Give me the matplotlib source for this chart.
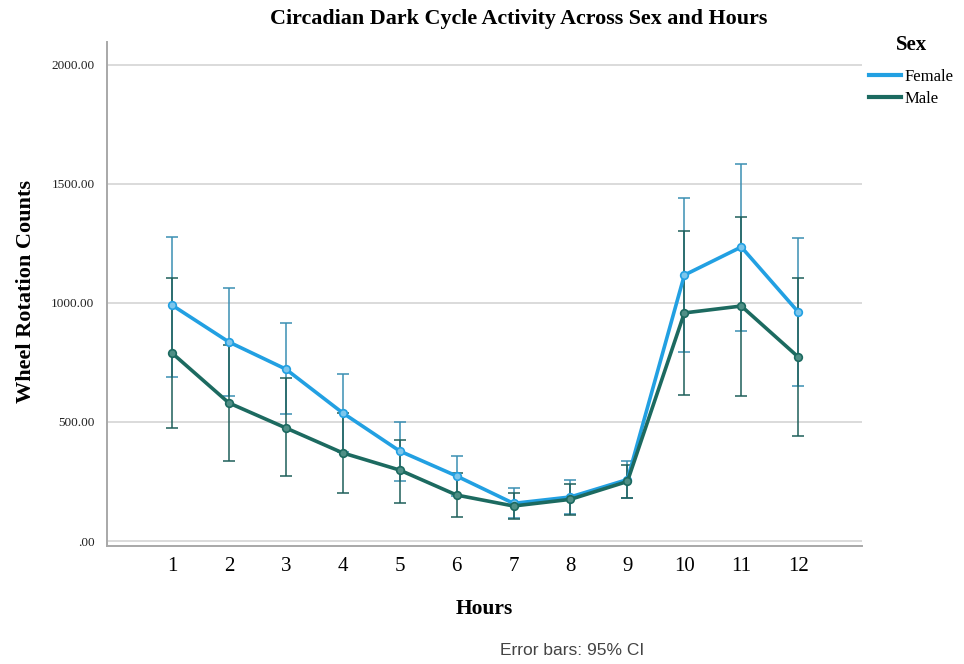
import numpy as np
import matplotlib.pyplot as plt

hours = [1, 2, 3, 4, 5, 6, 7, 8, 9, 10, 11, 12]

# mean wheel rotation counts and 95% CI bounds per hour
female_mean = [991, 836, 722, 538, 378, 273, 158, 185, 258, 1117, 1235, 962]
female_lo = [689, 609, 533, 375, 252, 188, 95, 114, 180, 794, 880, 651]
female_hi = [1277, 1063, 916, 701, 500, 357, 222, 256, 336, 1441, 1583, 1273]

male_mean = [790, 580, 475, 370, 298, 193, 147, 175, 250, 958, 987, 773]
male_lo = [475, 336, 273, 202, 160, 101, 92, 109, 180, 613, 609, 441]
male_hi = [1105, 824, 685, 538, 424, 285, 202, 241, 320, 1302, 1362, 1105]

y_ticks = [0, 500, 1000, 1500, 2000]
y_tick_labels = [".00", "500.00", "1000.00", "1500.00", "2000.00"]

serif = ["Liberation Serif", "DejaVu Serif"]

fig = plt.figure(figsize=(9.64, 6.64), dpi=100)
ax = fig.add_axes([107 / 964, 1 - 546 / 664, 755 / 964, 504 / 664])

x = np.array(hours)


def draw_series(mean, lo, hi, line_color, bar_color, fill, label):
    mean = np.array(mean)
    err = np.vstack([mean - np.array(lo), np.array(hi) - mean])
    ax.errorbar(x, mean, yerr=err, fmt="none", ecolor=bar_color,
                elinewidth=1.1, capsize=4.5, capthick=1.1, zorder=3)
    ax.plot(x, mean, color=line_color, lw=2.6, marker="o", ms=5.5,
            mfc=fill, mec=line_color, mew=1.2, label=label, zorder=4)


draw_series(female_mean, female_lo, female_hi, "#22a0e2", "#3b8fb3",
            "#7cc6ec", "Female")
draw_series(male_mean, male_lo, male_hi, "#1c6a60", "#1e5f5a",
            "#4f8f86", "Male")

ax.set_xlim(-0.14, 13.12)
ax.set_ylim(-21, 2096)
ax.set_yticks(y_ticks)
ax.set_yticklabels(y_tick_labels, family=serif, fontsize=9.5,
                   color="#222222")
ax.set_xticks(hours)
ax.set_xticklabels([str(h) for h in hours], family=serif, fontsize=15)
ax.tick_params(length=0)
ax.tick_params(axis="y", pad=9)
ax.tick_params(axis="x", pad=8)

ax.grid(axis="y", color="#d4d4d4", lw=1.2)
ax.set_axisbelow(True)
for side in ["top", "right"]:
    ax.spines[side].set_visible(False)
for side in ["left", "bottom"]:
    ax.spines[side].set_color("#a8a8a8")
    ax.spines[side].set_linewidth(1.4)

ax.set_ylabel("Wheel Rotation Counts", family=serif, fontsize=16,
              fontweight="bold")
ax.yaxis.set_label_coords(-0.094, 0.504)
ax.set_xlabel("Hours", family=serif, fontsize=15.5, fontweight="bold")
ax.xaxis.set_label_coords(0.5, -0.105)

fig.text(0.538, 0.972, "Circadian Dark Cycle Activity Across Sex and Hours",
         ha="center", va="center", family=serif, fontsize=15.8,
         fontweight="bold")

# legend title drawn separately so the gap above the entries can be set
fig.text(0.946, 0.932, "Sex", ha="center", va="center", family=serif,
         fontsize=15, fontweight="bold")
leg = fig.legend(loc="upper left", bbox_to_anchor=(0.886, 0.919),
                 frameon=False, prop={"family": serif, "size": 12},
                 handlelength=1.9, handletextpad=0.2, labelspacing=0.38)
for h in leg.legend_handles:
    h.set_marker("")
    h.set_linewidth(3)

fig.text(0.593, 0.021, "Error bars: 95% CI", ha="center", va="center",
         family=["Liberation Sans", "DejaVu Sans"], fontsize=12.5,
         color="#444444")

fig.savefig("out.png", dpi=100)
